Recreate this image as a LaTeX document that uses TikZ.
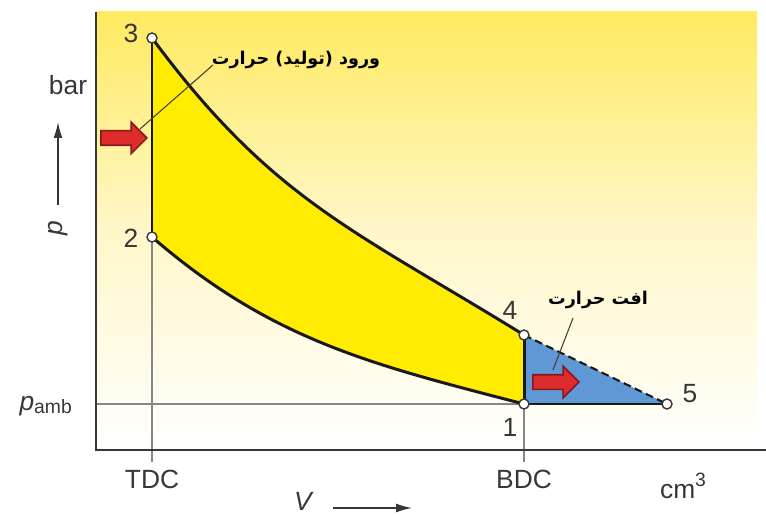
\documentclass[tikz,border=0pt]{standalone}
\usepackage{fontspec}
\setmainfont{Liberation Sans}
\newfontfamily\arabicfont[Script=Arabic]{DejaVu Sans}
\TeXXeTstate=1
\usetikzlibrary{arrows.meta,shapes.arrows}

\definecolor{bgyellow}{RGB}{255,234,96}
\definecolor{bgpale}{RGB}{255,247,200}
\definecolor{cycleyellow}{RGB}{255,236,0}
\definecolor{lossblue}{RGB}{96,152,214}
\definecolor{heatred}{RGB}{222,44,44}
\definecolor{labelgray}{RGB}{55,55,55}
\definecolor{guidegray}{RGB}{135,135,135}

\tikzset{
  statept/.style={circle, draw=labelgray, fill=white, line width=0.8pt, inner sep=0pt, minimum size=0.2cm},
  axislabel/.style={text=labelgray, font=\fontsize{15}{18}\selectfont},
  cycleline/.style={line width=1.7pt, black!90},
  guideline/.style={line width=1pt, guidegray},
  leader/.style={line width=0.6pt, black!70!olive},
  heatarrow/.style={single arrow, draw=heatred!60!black, fill=heatred, line width=0.9pt,
    inner xsep=0pt, inner ysep=0.13cm, minimum height=0.92cm,
    single arrow head extend=0.17cm, anchor=tip},
  farsi/.style={font=\arabicfont\bfseries\fontsize{10}{12}\selectfont}
}

\begin{document}
\begin{tikzpicture}[x=0.02cm, y=-0.02cm]
  \useasboundingbox (0,0) rectangle (766,516);
  \shade[top color=bgyellow, bottom color=white, middle color=bgpale] (97,12) rectangle (757,450);

  \coordinate (s1) at (524,404);
  \coordinate (s2) at (152,237);
  \coordinate (s3) at (152,38);
  \coordinate (s4) at (524,335);
  \coordinate (s5) at (667,404);
  \coordinate (tdc) at (152,462);
  \coordinate (bdc) at (524,462);
  \coordinate (amb) at (96,404);
  \coordinate (frametop) at (96,12);
  \coordinate (framecorner) at (96,450);
  \coordinate (frameright) at (766,450);

  \fill[lossblue] (s4) -- (s5) -- (s1) -- cycle;
  \fill[cycleyellow] (s2) -- (s3) .. controls (272,200) and (354,230) .. (s4)
    -- (s1) .. controls (374,365) and (272,341) .. (s2) -- cycle;

  \draw[guideline] (amb) -- (s1);
  \draw[guideline] (s2) -- (tdc);
  \draw[guideline] (s1) -- (bdc);
  \draw[line width=1.4pt, labelgray] (frametop) -- (framecorner) -- (frameright);

  \draw[cycleline] (s3) .. controls (272,200) and (354,230) .. (s4);
  \draw[cycleline] (s2) .. controls (272,341) and (374,365) .. (s1);
  \draw[cycleline] (s2) -- (s3);
  \draw[cycleline] (s4) -- (s1) -- (s5);
  \draw[cycleline, line width=1.2pt, dash pattern=on 4.5pt off 2.5pt] (s4) -- (s5);

  \node[heatarrow] (inarrow) at (148,138) {};
  \node[heatarrow] (outarrow) at (580,382) {};

  \node[farsi] (heatin) at (296,60) {\beginR ورود (تولید) حرارت\endR};
  \node[farsi] (heatout) at (598,300) {\beginR افت حرارت\endR};
  \coordinate (inlead) at (213,65);
  \coordinate (outlead) at (573,318);
  \draw[leader] (inlead) -- (140,129);
  \draw[leader] (outlead) -- (553,370);

  \foreach \s in {1,...,5}
    \node[statept] (p\s) at (s\s) {};

  \node[axislabel] (n3) at (131,33) {3};
  \node[axislabel] (n2) at (131,238) {2};
  \node[axislabel] (n4) at (510,310) {4};
  \node[axislabel] (n1) at (510,427) {1};
  \node[axislabel] (n5) at (690,394) {5};

  \node[axislabel] (barlabel) at (68,85) {bar};
  \node[axislabel, rotate=90] (plabel) at (58,228) {\itshape p};
  \coordinate (pfoot) at (58,205);
  \coordinate (phead) at (58,122);
  \draw[labelgray, line width=0.8pt, -{Latex[length=9pt,width=5pt]}] (pfoot) -- (phead);
  \node[axislabel, anchor=east] (pamb) at (78,406) {\itshape p\upshape\raisebox{-2pt}{\fontsize{11}{12}\selectfont amb}};

  \node[axislabel] (tdclabel) at (152,479) {TDC};
  \node[axislabel] (bdclabel) at (524,479) {BDC};
  \node[axislabel] (unitlabel) at (683,486) {cm\raisebox{0.45em}{\fontsize{11}{12}\selectfont 3}};
  \node[axislabel] (vlabel) at (303,501) {\itshape V};
  \coordinate (vfoot) at (333,508);
  \coordinate (vhead) at (412,508);
  \draw[labelgray, line width=0.8pt, -{Latex[length=9pt,width=5pt]}] (vfoot) -- (vhead);
\end{tikzpicture}
\end{document}
